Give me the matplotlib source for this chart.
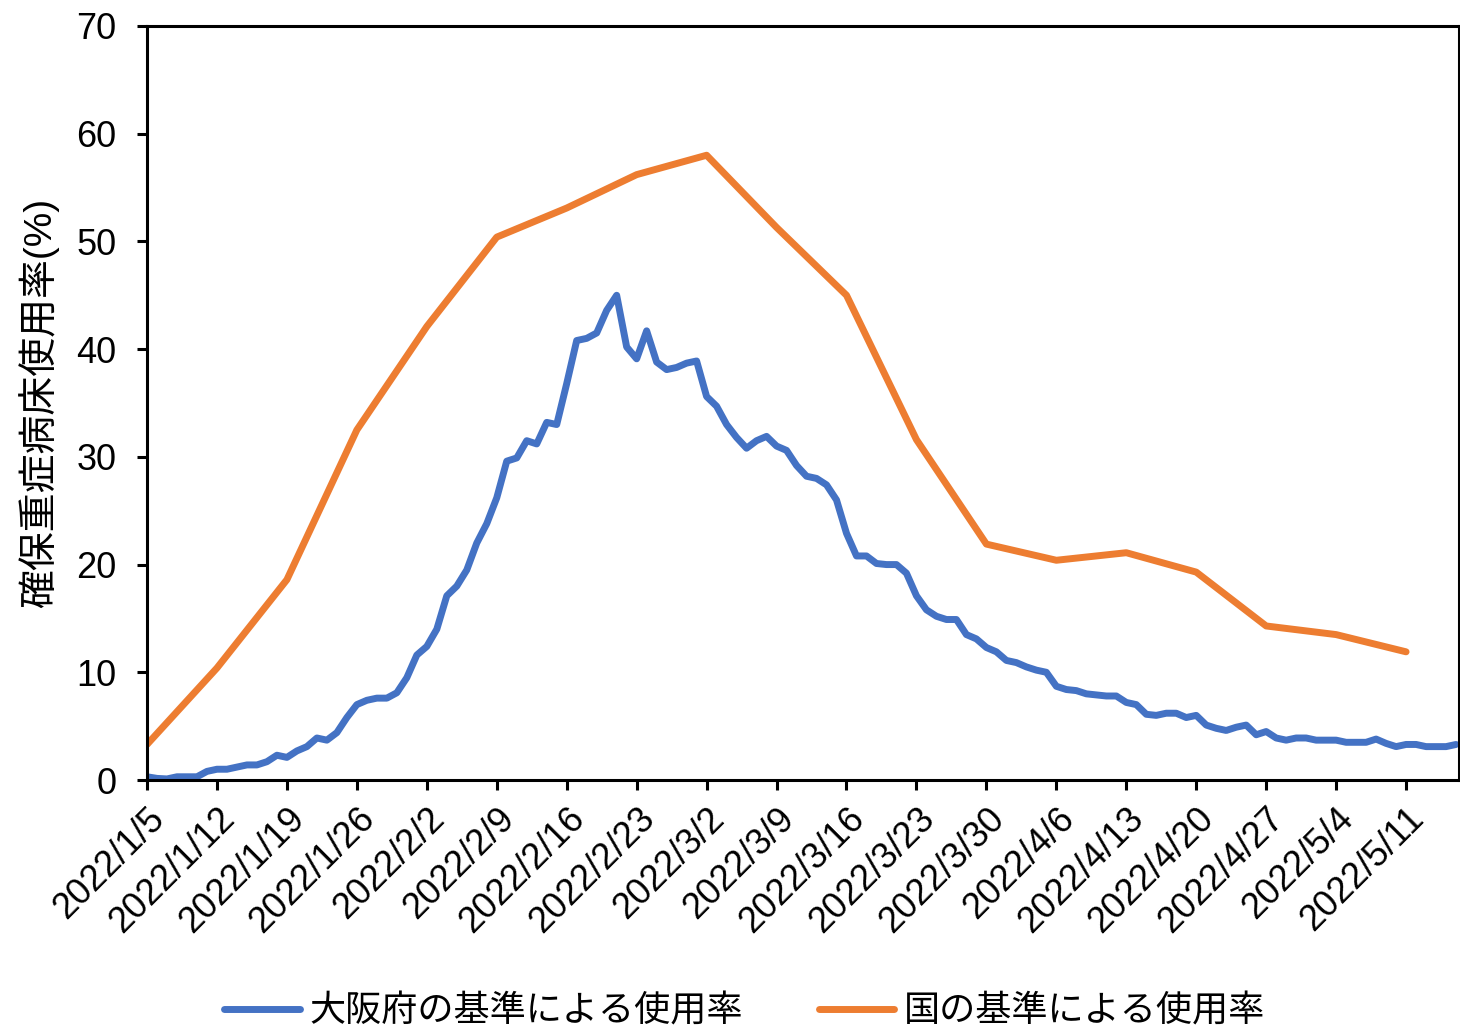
import pandas as pd
import matplotlib
matplotlib.use("Agg")
import matplotlib.pyplot as plt


# daily values from 2022/1/5 (大阪府の基準)
osaka = [
    0.3, 0.15, 0.1, 0.3, 0.3, 0.3, 0.8, 1.0, 1.0, 1.2,
    1.4, 1.4, 1.7, 2.3, 2.1, 2.7, 3.1, 3.9, 3.7, 4.4,
    5.8, 7.0, 7.4, 7.6, 7.6, 8.1, 9.5, 11.6, 12.4, 14.0,
    17.1, 18.0, 19.5, 22.0, 23.8, 26.2, 29.6, 29.9, 31.5, 31.2,
    33.2, 33.0, 36.8, 40.8, 41.0, 41.5, 43.6, 45.0, 40.2, 39.1,
    41.7, 38.8, 38.1, 38.3, 38.7, 38.9, 35.6, 34.7, 33.0, 31.8,
    30.8, 31.5, 31.9, 31.0, 30.6, 29.2, 28.2, 28.0, 27.4, 26.0,
    22.9, 20.8, 20.8, 20.1, 20.0, 20.0, 19.2, 17.1, 15.8, 15.2,
    14.9, 14.9, 13.5, 13.1, 12.3, 11.9, 11.1, 10.9, 10.5, 10.2,
    10.0, 8.7, 8.4, 8.3, 8.0, 7.9, 7.8, 7.8, 7.2, 7.0,
    6.1, 6.0, 6.2, 6.2, 5.8, 6.0, 5.1, 4.8, 4.6, 4.9,
    5.1, 4.2, 4.5, 3.9, 3.7, 3.9, 3.9, 3.7, 3.7, 3.7,
    3.5, 3.5, 3.5, 3.8, 3.4, 3.1, 3.3, 3.3, 3.1, 3.1,
    3.1, 3.3,
]

# weekly values (国の基準)
national_dates = [
    "2022-01-05", "2022-01-12", "2022-01-19", "2022-01-26", "2022-02-02",
    "2022-02-09", "2022-02-16", "2022-02-23", "2022-03-02", "2022-03-09",
    "2022-03-16", "2022-03-23", "2022-03-30", "2022-04-06", "2022-04-13",
    "2022-04-20", "2022-04-27", "2022-05-04", "2022-05-11",
]
national = [
    3.3, 10.4, 18.6, 32.5, 42.1, 50.4, 53.1, 56.2, 58.0, 51.3,
    45.0, 31.6, 21.9, 20.4, 21.1, 19.3, 14.3, 13.5, 11.9,
]

label_osaka = "大阪府の基準による使用率"
label_national = "国の基準による使用率"
ylabel = "確保重症病床使用率(%)"

plt.rcParams["font.family"] = ["Liberation Sans", "Noto Sans CJK JP"]


def main():
    osaka_dates = pd.date_range("2022-01-05", periods=len(osaka), freq="D")
    nat_dates = pd.to_datetime(national_dates)
    tick_dates = pd.date_range("2022-01-05", "2022-05-11", freq="7D")

    fig = plt.figure(figsize=(14.6, 10.27), dpi=100)
    ax = fig.add_axes([0.1007, 0.2405, 0.8983, 0.7342])

    ax.plot(osaka_dates, osaka, color="#4472C4", linewidth=5,
            solid_capstyle="round", solid_joinstyle="round", label=label_osaka)
    ax.plot(nat_dates, national, color="#ED7D31", linewidth=5,
            solid_capstyle="round", solid_joinstyle="round", label=label_national)

    ax.set_xlim(osaka_dates[0], osaka_dates[-1] + pd.Timedelta(hours=6))
    ax.set_ylim(0, 70)
    ax.set_yticks(range(0, 71, 10))
    ax.set_xticks(tick_dates)
    ax.set_xticklabels([f"{d.year}/{d.month}/{d.day}" for d in tick_dates],
                       rotation=45, ha="right", rotation_mode="anchor")

    for s in ax.spines.values():
        s.set_linewidth(2.2)
    ax.tick_params(axis="both", direction="out", length=7, width=2.2,
                   labelsize=26)
    ax.tick_params(axis="y", pad=15)
    ax.tick_params(axis="x", pad=8)

    ax.set_ylabel(ylabel, fontsize=28, labelpad=12)

    fig.legend(loc="lower center", bbox_to_anchor=(0.51, -0.034), ncol=2,
               frameon=False, fontsize=26, handlelength=2.1,
               columnspacing=2.1, handletextpad=0.25)

    fig.savefig("out.png", dpi=100)


if __name__ == "__main__":
    main()
